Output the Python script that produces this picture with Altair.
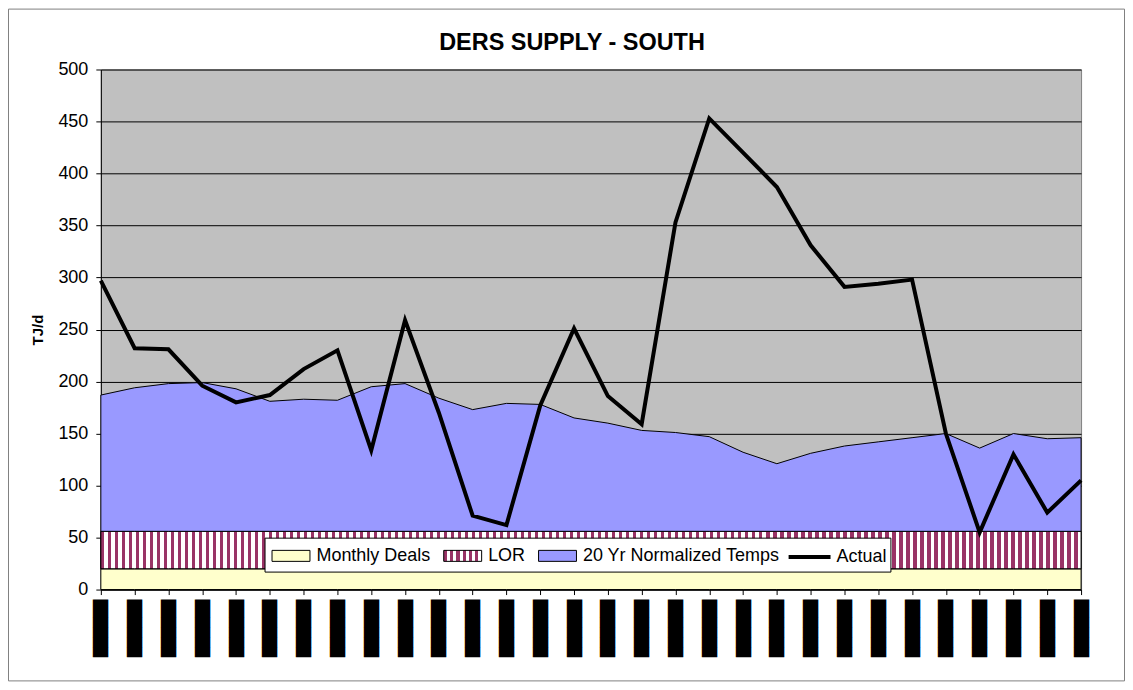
import json
import altair as alt
import pandas as pd

# ---- data ----
months = list(range(30))
date_labels = ["█████▊"] * 30  # redacted date labels (shown as black bars)

monthly_deals = [20, 20, 20, 20, 20, 20, 20, 20, 20, 20,
                 20, 20, 20, 20, 20, 20, 20, 20, 20, 20,
                 20, 20, 20, 20, 20, 20, 20, 20, 20, 20]
lor = [36, 36, 36, 36, 36, 36, 36, 36, 36, 36,
       36, 36, 36, 36, 36, 36, 36, 36, 36, 36,
       36, 36, 36, 36, 36, 36, 36, 36, 36, 36]
normalized_temps = [131, 138, 142, 143, 137, 125, 127, 126, 139, 142,
                    128, 117, 123, 122, 109, 104, 97, 95, 91, 76,
                    65, 75, 82, 86, 90, 94, 80, 94, 89, 90]
actual = [297, 232, 231, 196, 180, 187, 212, 230, 134, 259,
          170, 71, 62, 177, 251, 186, 159, 353, 453, 420,
          387, 331, 291, 294, 298, 150, 55, 130, 74, 105]

area_names = ["Monthly Deals", "LOR", "20 Yr Normalized Temps"]
line_name = "Actual"

df = pd.DataFrame({"i": months, "deals": monthly_deals, "lor": lor,
                   "temps": normalized_temps, "actual": actual})

W, H = 982, 521
PAD = {"left": 93, "top": 61, "right": 44, "bottom": 92}


def stripe_stops(n, c1, c2, frac=0.5):
    stops = []
    for k in range(n):
        a, b, c = k / n, (k + frac) / n, (k + 1) / n
        stops += [{"offset": a, "color": c1}, {"offset": b, "color": c1},
                  {"offset": b, "color": c2}, {"offset": c, "color": c2}]
    return stops


lor_fill = {"gradient": "linear", "x1": 0, "x2": 1, "y1": 0, "y2": 0,
            "stops": stripe_stops(140, "#993366", "#FFFFFF")}
legend_stops = ", ".join("{offset: %g, color: '%s'}" % (s["offset"], s["color"])
                         for s in stripe_stops(6, "#993366", "#FFFFFF"))
lor_legend_expr = ("({gradient: 'linear', x1: 0, x2: 1, y1: 0, y2: 0, stops: [%s]})"
                   % legend_stops)

label_expr = json.dumps(date_labels) + "[datum.value]"

x_axis = alt.Axis(values=months, labelExpr=label_expr, labelAngle=270,
                  labelFont="DejaVu Sans", labelFontSize=13, labelPadding=2,
                  labelColor="#000000", tickSize=5, grid=False, title=None,
                  labelOverlap=False, labelFlush=False, labelBound=False,
                  domainColor="#000000", tickColor="#000000")
x_scale = alt.Scale(domain=[0, 29], nice=False, zero=False)
x_enc = alt.X("i:Q", scale=x_scale, axis=x_axis)

y_scale = alt.Scale(domain=[0, 500], nice=False)
y_axis = alt.Axis(values=list(range(0, 501, 50)), title="TJ/d", titleFont="Liberation Sans",
                  titleFontSize=15, titleFontWeight="bold", titlePadding=12,
                  titleColor="#000000", labelColor="#000000",
                  labelFont="Liberation Sans", labelFontSize=18, labelPadding=8,
                  tickSize=5, grid=True, gridColor="#000000", gridWidth=1,
                  domainColor="#000000", tickColor="#000000")

fill_scale = alt.Scale(domain=area_names,
                       range=["#FFFFCC", alt.ExprRef(expr=lor_legend_expr), "#9999FF"])
fill_legend = alt.Legend(
    title=None, orient="none", legendX=171, legendY=467.5, direction="horizontal",
    labelFont="Liberation Sans", labelFontSize=18, labelColor="#000000", labelLimit=0,
    symbolType="M-1,-0.29H1V0.29H-1Z", symbolSize=1444, symbolStrokeColor="#000000",
    symbolStrokeWidth=1, symbolOpacity=1, labelOffset=6, columnPadding=10, padding=0,
)
stroke_legend = alt.Legend(
    title=None, orient="none", legendX=687, legendY=465.5, direction="horizontal",
    labelFont="Liberation Sans", labelFontSize=18, labelColor="#000000", labelLimit=0,
    symbolType="stroke", symbolSize=1764, symbolStrokeWidth=4, labelOffset=4, padding=0,
)

base = alt.Chart(df)

deals_area = base.transform_calculate(series="'Monthly Deals'").mark_area(
    stroke="#000000", strokeWidth=1, opacity=1
).encode(
    x=x_enc,
    y=alt.Y("deals:Q", scale=y_scale, axis=y_axis),
    y2=alt.datum(0),
    fill=alt.Fill("series:N", scale=fill_scale, legend=fill_legend),
)

lor_base = base.transform_calculate(
    lor_lo="datum.deals", lor_hi="datum.deals + datum.lor", series="'LOR'"
)
lor_area = lor_base.mark_area(stroke="#000000", strokeWidth=1, opacity=1).encode(
    x=x_enc, y=alt.Y("lor_hi:Q", scale=y_scale, axis=y_axis), y2="lor_lo:Q",
    fill=alt.Fill("series:N", scale=fill_scale, legend=fill_legend)
)
lor_stripes = lor_base.mark_area(fill=lor_fill, stroke="#000000", strokeWidth=1).encode(
    x=x_enc, y=alt.Y("lor_hi:Q", scale=y_scale, axis=y_axis), y2="lor_lo:Q"
)

temps_area = base.transform_calculate(
    t_lo="datum.deals + datum.lor", t_hi="datum.deals + datum.lor + datum.temps",
    series="'20 Yr Normalized Temps'"
).mark_area(stroke="#000000", strokeWidth=1, opacity=1).encode(
    x=x_enc, y=alt.Y("t_hi:Q", scale=y_scale, axis=y_axis), y2="t_lo:Q",
    fill=alt.Fill("series:N", scale=fill_scale, legend=fill_legend)
)

actual_line = base.transform_calculate(series2="'Actual'").mark_line(
    strokeWidth=4, strokeJoin="miter"
).encode(
    x=x_enc, y=alt.Y("actual:Q", scale=y_scale, axis=y_axis),
    stroke=alt.Stroke("series2:N", scale=alt.Scale(domain=[line_name], range=["#000000"]),
                      legend=stroke_legend),
)

one = alt.Data(values=[{"a": 1}])
frame = alt.Chart(one).mark_rect(
    fill="transparent", stroke="#808080", strokeWidth=1
).encode(
    x=alt.value(-PAD["left"] + 0.5), x2=alt.value(W + PAD["right"] - 0.5),
    y=alt.value(-PAD["top"] + 0.5), y2=alt.value(H + PAD["bottom"] - 0.5),
)
legend_box = alt.Chart(one).mark_rect(
    fill="#FFFFFF", stroke="#000000", strokeWidth=1
).encode(
    x=alt.value(164.5), x2=alt.value(791.5), y=alt.value(469.5), y2=alt.value(503.5),
)

chart = alt.layer(frame, deals_area, lor_area, lor_stripes, temps_area, legend_box,
                  actual_line).properties(
    width=W, height=H,
    title=alt.Title("DERS SUPPLY - SOUTH", font="Liberation Sans", fontSize=23.5,
                    fontWeight="bold", color="#000000", anchor="middle",
                    offset=-64.5, baseline="alphabetic", dx=-19),
    autosize=alt.AutoSizeParams(type="none"),
    padding=PAD,
    background="#FFFFFF",
).configure_view(
    fill="#C0C0C0", stroke="#808080"
)

chart.save("out.html", embed_options={"renderer": "svg", "actions": False})
